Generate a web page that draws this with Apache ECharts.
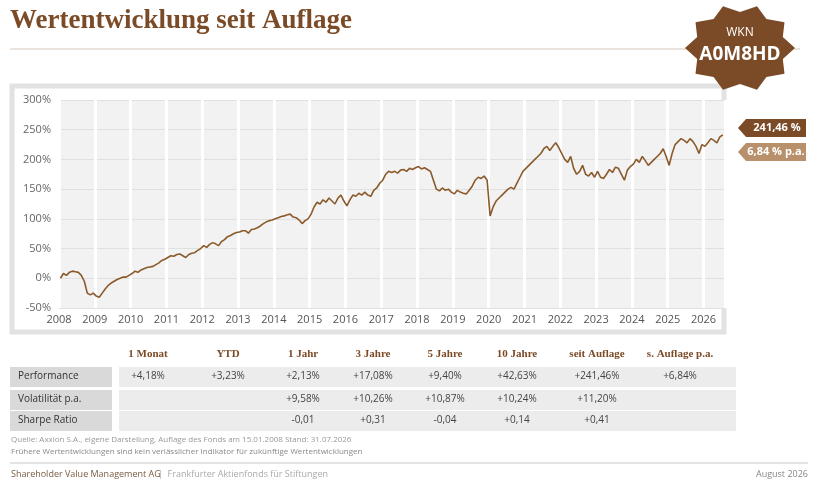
<!DOCTYPE html>
<html><head><meta charset="utf-8">
<script src="https://cdn.jsdelivr.net/npm/echarts@6/dist/echarts.min.js"></script>
<style>html,body{margin:0;padding:0;background:#fff}#c{width:832px;height:500px}</style>
</head><body><div id="c"></div>
<script>
const startYear = 2008;
const monthlyPerf = [
0,8,5,10,12,11,10,5,-5,-25,-28,-25,
-30,-32,-25,-18,-12,-8,-5,-2,0,2,2,5,
8,12,10,14,16,18,19,20,23,26,30,32,
35,38,37,40,41,38,35,40,42,43,47,50,
55,52,57,60,58,55,62,65,70,72,75,77,
78,80,80,76,82,83,85,88,92,95,97,98,
100,102,104,105,107,108,103,102,98,92,97,100,
108,120,128,125,132,128,135,130,125,135,140,130,
122,132,140,138,143,140,145,140,138,148,152,160,
165,175,180,178,180,177,182,183,180,185,183,186,
188,184,186,183,180,165,150,147,152,148,150,145,
142,148,145,143,142,148,155,165,170,168,172,165,
105,120,130,135,140,145,150,153,150,160,170,180,
185,190,195,200,205,210,218,222,215,222,228,220,
210,200,195,205,185,175,180,190,175,172,178,170,
180,170,168,175,183,178,187,185,175,165,182,188,
192,200,195,205,198,190,195,200,205,210,218,205,
190,210,225,230,235,232,228,235,230,222,210,225,
222,228,235,232,228,238,241.46];
const tableHeaders = ['1 Monat','YTD','1 Jahr','3 Jahre','5 Jahre','10 Jahre','seit Auflage','s. Auflage p.a.'];
const rowLabels = ['Performance','Volatilität p.a.','Sharpe Ratio'];
const rowPerformance = ['+4,18%','+3,23%','+2,13%','+17,08%','+9,40%','+42,63%','+241,46%','+6,84%'];
const rowVolatility = ['','','+9,58%','+10,26%','+10,87%','+10,24%','+11,20%',''];
const rowSharpe = ['','','-0,01','+0,31','-0,04','+0,14','+0,41',''];
const totalLabel = '241,46 %';
const paLabel = '6,84 % p.a.';

const seriesData = monthlyPerf.map((v,i)=>[startYear + i/12 + 0.04, v]);
const brown = '#7b4a26', dark = '#8a5a30';
const colX = [148,228,303,373,445,517,597,680];
const rowY = [377,400,421];
const rows = [rowPerformance,rowVolatility,rowSharpe];
const g = [];
g.push({type:'text',left:10,top:8,style:{text:'Wertentwicklung seit Auflage',font:'bold 27px "Liberation Serif", serif',fill:brown}});
g.push({type:'line',shape:{x1:10,y1:49,x2:800,y2:49},style:{stroke:'#d8c8b8',lineWidth:1}});
g.push({type:'rect',z:-10,shape:{x:12,y:86,width:712,height:246},style:{fill:'#fff',stroke:'#e2e2e2',lineWidth:5}});
// badge
const pts=[];const cx=740,cy=48;
for(let i=0;i<20;i++){const a=i*Math.PI/10;const r=i%2?36:44;pts.push([cx+r*Math.cos(a)*1.25,cy+r*Math.sin(a)]);}
g.push({type:'polygon',shape:{points:pts},style:{fill:brown}});
g.push({type:'text',style:{text:'WKN',x:cx,y:27,align:'center',font:'12px "Open Sans"',fill:'#fff'}});
g.push({type:'text',style:{text:'A0M8HD',x:cx,y:45,align:'center',font:'bold 19px "Open Sans"',fill:'#fff'}});
// tags
g.push({type:'polygon',shape:{points:[[738,128],[746,119],[806,119],[806,137],[746,137]]},style:{fill:brown}});
g.push({type:'text',style:{text:totalLabel,x:777,y:122,align:'center',font:'bold 11px "Open Sans"',fill:'#fff'}});
g.push({type:'polygon',shape:{points:[[738,152],[746,143],[806,143],[806,161],[746,161]]},style:{fill:'#b8906c'}});
g.push({type:'text',style:{text:paLabel,x:776,y:146,align:'center',font:'bold 11px "Open Sans"',fill:'#fff'}});
// table
tableHeaders.forEach((h,i)=>g.push({type:'text',style:{text:h,x:colX[i],y:349,align:'center',font:'bold 11px "Liberation Serif"',fill:brown}}));
rowLabels.forEach((l,r)=>{
  g.push({type:'rect',shape:{x:10,y:rowY[r]-10,width:102,height:20},style:{fill:'#d9d9d9'}});
  g.push({type:'rect',shape:{x:119,y:rowY[r]-10,width:617,height:20},style:{fill:'#ececec'}});
  g.push({type:'text',style:{text:l,x:18,y:rowY[r]-6,font:'10px "Open Sans"',fill:'#333'}});
  rows[r].forEach((v,i)=>{ if(v) g.push({type:'text',style:{text:v,x:colX[i],y:rowY[r]-6,align:'center',font:'10px "Open Sans"',fill:'#444'}});});
});
g.push({type:'text',style:{text:'Quelle: Axxion S.A., eigene Darstellung, Auflage des Fonds am 15.01.2008 Stand: 31.07.2026',x:11,y:436,font:'8px "Open Sans"',fill:'#999'}});
g.push({type:'text',style:{text:'Frühere Wertentwicklungen sind kein verlässlicher Indikator für zukünftige Wertentwicklungen',x:11,y:448,font:'8px "Open Sans"',fill:'#888'}});
g.push({type:'line',shape:{x1:10,y1:463,x2:808,y2:463},style:{stroke:'#e4e4e4',lineWidth:2}});
g.push({type:'text',style:{text:'Shareholder Value Management AG',x:11,y:470,font:'9px "Open Sans"',fill:'#7a5a40'}});
g.push({type:'text',style:{text:'|  Frankfurter Aktienfonds für Stiftungen',x:158,y:470,font:'9px "Open Sans"',fill:'#aaa'}});
g.push({type:'text',style:{text:'August 2026',x:808,y:470,align:'right',font:'9px "Open Sans"',fill:'#888'}});

const chart = echarts.init(document.getElementById('c'));
chart.setOption({
  animation:false,
  graphic:g,
  grid:{left:59,right:107,top:100,bottom:192,backgroundColor:'#f2f2f2',show:true,borderWidth:0},
  xAxis:{type:'value',min:2008,max:2026.6,interval:1,
    axisLine:{show:false},axisTick:{show:false},
    axisLabel:{formatter:v=>Number.isInteger(v)?String(v):'',color:'#555',font:'11px',fontFamily:'Open Sans',fontSize:11,margin:6},
    splitLine:{show:true,lineStyle:{color:'#fff',width:3}}},
  yAxis:{type:'value',min:-50,max:300,interval:50,
    axisLine:{show:false},axisTick:{show:false},
    axisLabel:{formatter:'{value}%',color:'#666',fontFamily:'Open Sans',fontSize:11,margin:8},
    splitLine:{lineStyle:{color:'#e0e0e0',width:1}}},
  series:[{type:'line',data:seriesData,showSymbol:false,lineStyle:{color:'#8b5a2b',width:1.6}}]
});
</script></body></html>
